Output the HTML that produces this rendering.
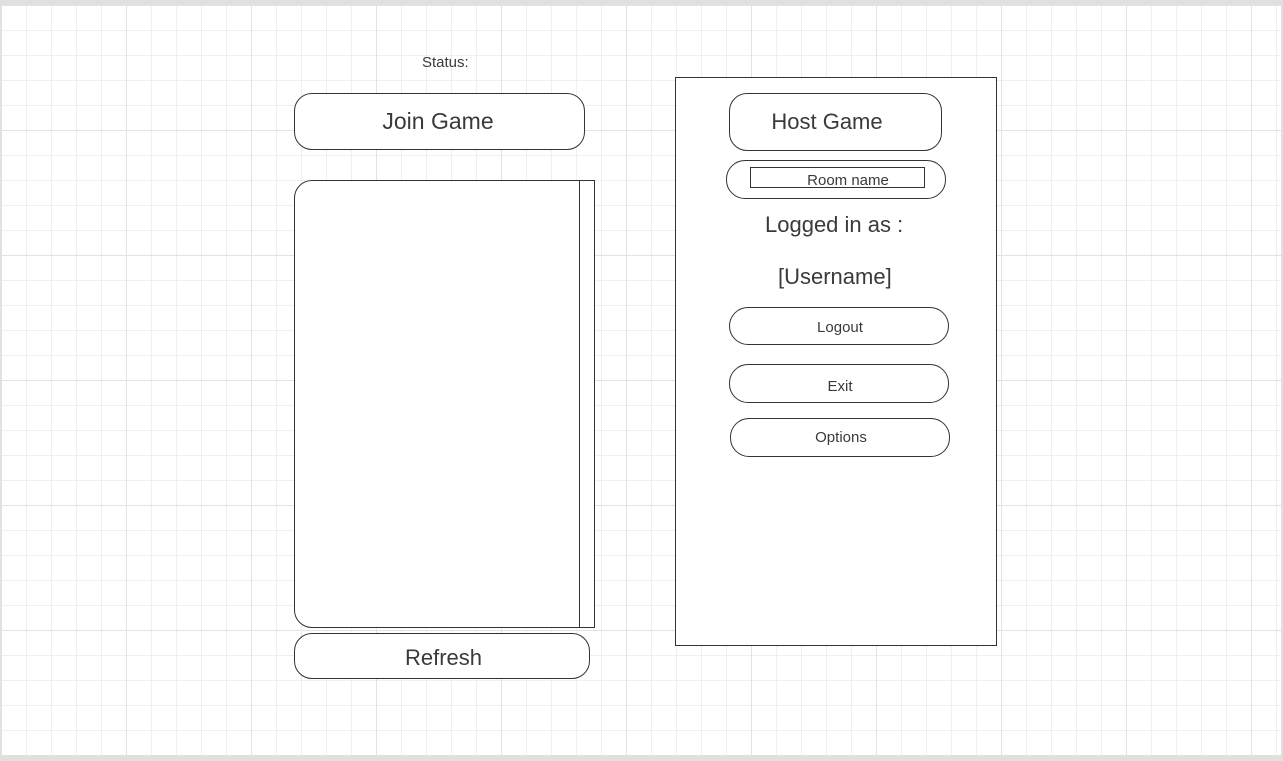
<!DOCTYPE html>
<html><head><style>
body{margin:0;width:1283px;height:761px;background:#e0e0e0;position:relative;overflow:hidden;font-family:"Liberation Sans",sans-serif;color:#3a3a3a}
#g{position:absolute;left:1px;top:5px;width:1280px;height:750px;background-color:#fff;
background-image:linear-gradient(#e3e3e3 1px,transparent 1px),linear-gradient(90deg,#e3e3e3 1px,transparent 1px),linear-gradient(#efefef 1px,transparent 1px),linear-gradient(90deg,#efefef 1px,transparent 1px);
background-size:125px 125px,125px 125px,25px 25px,25px 25px}
.a{position:absolute;box-sizing:border-box;border:1px solid #333;background:#fff;display:flex;align-items:center;justify-content:center}
.t{position:absolute;white-space:nowrap}
</style></head><body>
<div id="g"></div>
<div class="t" style="left:422px;top:54px;font-size:15px">Status:</div>
<div class="a" style="left:294px;top:93px;width:291px;height:57px;border-radius:18px;font-size:23px;padding-right:3px">Join Game</div>
<div class="a" style="left:294px;top:180px;width:286px;height:448px;border-radius:18px 0 0 18px"></div>
<div class="a" style="left:579px;top:180px;width:16px;height:448px"></div>
<div class="a" style="left:294px;top:633px;width:296px;height:46px;border-radius:18px;font-size:22px;padding-top:3px;padding-left:3px">Refresh</div>
<div class="a" style="left:675px;top:77px;width:322px;height:569px"></div>
<div class="a" style="left:729px;top:93px;width:213px;height:58px;border-radius:18px;font-size:22px;padding-right:17px">Host Game</div>
<div class="a" style="left:726px;top:160px;width:220px;height:39px;border-radius:19px"></div>
<div class="a" style="left:750px;top:167px;width:175px;height:21px;font-size:15px;padding-left:21px;padding-top:6px">Room name</div>
<div class="t" style="left:765px;top:212px;font-size:22px">Logged in as :</div>
<div class="t" style="left:778px;top:264px;font-size:22px">[Username]</div>
<div class="a" style="left:729px;top:307px;width:220px;height:38px;border-radius:19px;font-size:15px;padding-left:2px;padding-top:2px">Logout</div>
<div class="a" style="left:729px;top:364px;width:220px;height:39px;border-radius:19px;font-size:15px;padding-top:6px;padding-left:2px">Exit</div>
<div class="a" style="left:730px;top:418px;width:220px;height:39px;border-radius:19px;font-size:15px;padding-left:2px">Options</div>
</body></html>
